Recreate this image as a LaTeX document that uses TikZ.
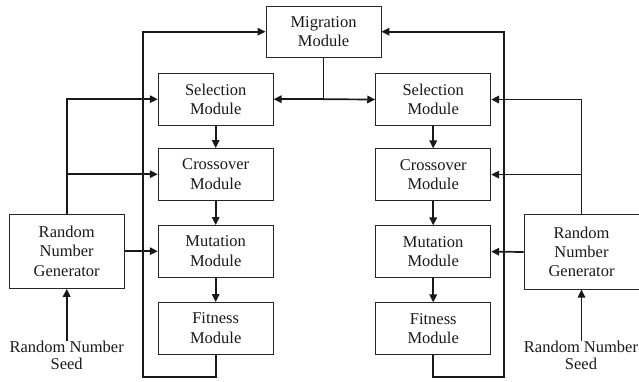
\documentclass[tikz,border=0pt]{standalone}
\usepackage{fontspec}
\setmainfont{Liberation Serif}
\usetikzlibrary{arrows.meta}
\begin{document}
\begin{tikzpicture}[x=1pt,y=-1pt,
  box/.style={draw=black!85,line width=0.9pt,minimum width=115pt,minimum height=51.5pt,inner sep=0pt,align=center,font=\fontsize{16.5}{19.3}\selectfont,text=black!90},
  rng/.style={box,minimum height=74.3pt},
  lbl/.style={align=center,inner sep=0pt,font=\fontsize{16.5}{16.5}\selectfont,text=black!90},
  con/.style={line width=1.7pt,draw=black!90,line join=miter},
  arr/.style={con,-{Triangle[length=8pt,width=7.5pt]}}]
\useasboundingbox (0,0) rectangle (639,381);
% nodes
\node[box] (mig) at (323.5,31.7) {Migration\\Module};
\node[box] (selL) at (215.7,99.2) {Selection\\Module};
\node[box] (croL) at (215.7,174.2) {Crossover\\Module};
\node[box] (mutL) at (215.7,251.2) {Mutation\\Module};
\node[box] (fitL) at (215.7,328.2) {Fitness\\Module};
\node[box] (selR) at (433.2,99.5) {Selection\\Module};
\node[box] (croR) at (433.2,174.6) {Crossover\\Module};
\node[box] (mutR) at (433.2,251.6) {Mutation\\Module};
\node[box] (fitR) at (433.2,328.6) {Fitness\\Module};
\node[rng] (rngL) at (66.7,251.2) {Random\\Number\\Generator};
\node[rng] (rngR) at (581.5,252) {Random\\Number\\Generator};
\node[lbl,anchor=north] (seedL) at (66.7,341) {Random Number\\Seed};
\node[lbl,anchor=north] (seedR) at (581,341) {Random Number\\Seed};
% migration distribution
\coordinate (mj) at (mig.south |- selL.east);
\draw[con] (mig.south) -- (mj);
\draw[arr] (mj) -- (selL.east);
\draw[arr] (mj) -- (selR.west);
% module chains
\draw[arr] (selL) -- (croL);
\draw[arr] (croL) -- (mutL);
\draw[arr] (mutL) -- (fitL);
\draw[arr] (selR) -- (croR);
\draw[arr] (croR) -- (mutR);
\draw[arr] (mutR) -- (fitR);
% feedback loops
\coordinate (fbL) at (142.7,377.3);
\coordinate (fbR) at (504,377.3);
\draw[arr] (fitL.south) |- (fbL) |- (mig.west);
\draw[arr] (fitR.south) |- (fbR) |- (mig.east);
% random number generators
\draw[arr] (rngL.north) |- (selL.west);
\draw[arr] (rngL.north |- croL.west) -- (croL.west);
\draw[arr] (rngL.east) -- (mutL.west);
\draw[arr] (rngR.north) |- (selR.east);
\draw[arr] (rngR.north |- croR.east) -- (croR.east);
\draw[arr] (rngR.west) -- (mutR.east);
% seeds
\draw[arr] (seedL.north) -- (rngL.south);
\draw[arr] (seedR.north -| rngR.south) -- (rngR.south);
\end{tikzpicture}
\end{document}
